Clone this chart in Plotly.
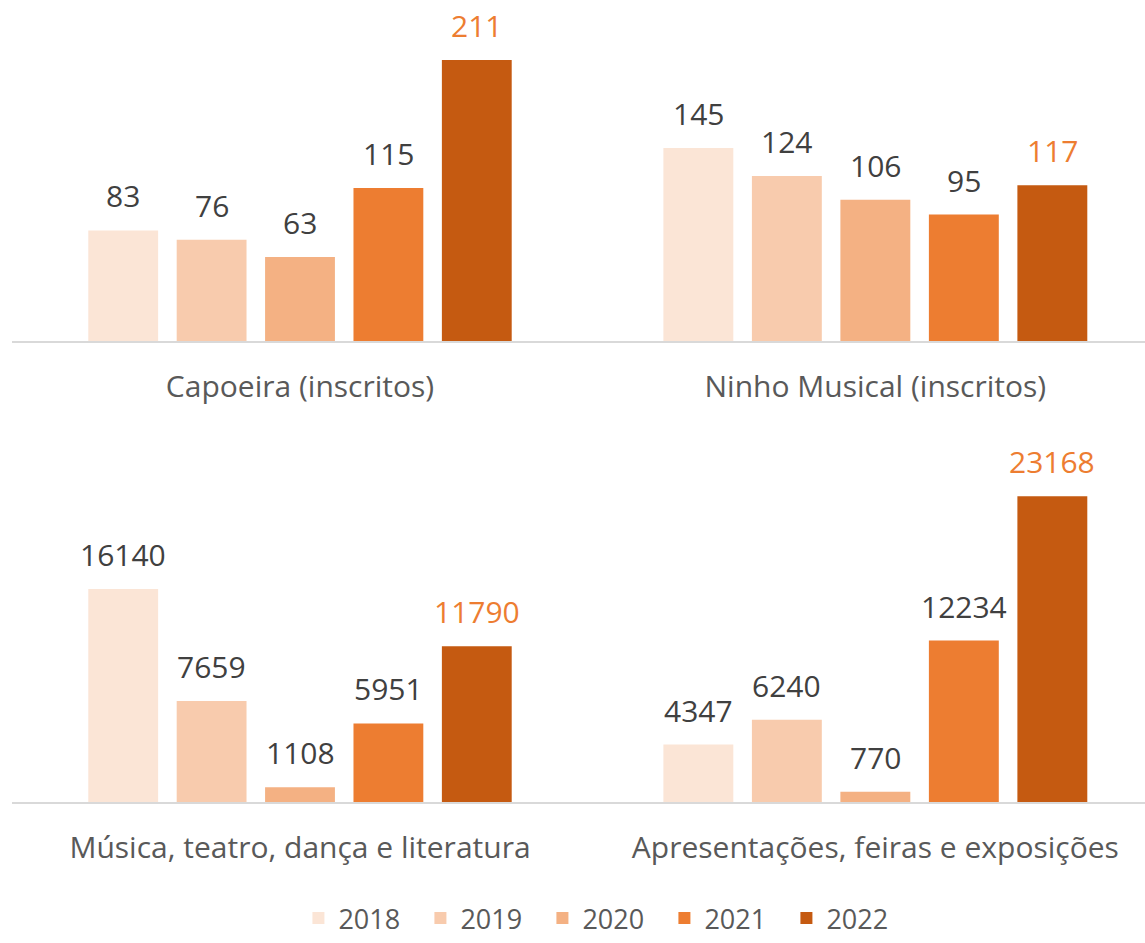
import plotly.graph_objects as go

years = ["2018", "2019", "2020", "2021", "2022"]
colors = ["#FBE5D6", "#F8CBAD", "#F4B183", "#ED7D31", "#C55A11"]
categories = [
    "Capoeira (inscritos)",
    "Ninho Musical (inscritos)",
    "Música, teatro, dança e literatura",
    "Apresentações, feiras e exposições",
]
capoeira = [83, 76, 63, 115, 211]
ninho = [145, 124, 106, 95, 117]
musica = [16140, 7659, 1108, 5951, 11790]
apresentacoes = [4347, 6240, 770, 12234, 23168]
series = [capoeira, ninho, musica, apresentacoes]

W, H = 1145, 943
FONT = "Open Sans"
VAL_SIZE = 30
CAT_SIZE = 30

fig = go.Figure()

# panel layout (pixels)
x_split = 588
left_dom = [12 / W, x_split / W]
right_dom = [x_split / W, 1.0]
top_dom = [(H - 341) / H, 1.0]
bot_dom = [(H - 802) / H, (H - 440) / H]

panels = [
    dict(xa="x", ya="y", xd=left_dom, yd=top_dom, xr=[-1.258, 5.258], yr=[0, 256.1]),
    dict(xa="x2", ya="y2", xd=right_dom, yd=top_dom, xr=[-1.247, 5.047], yr=[0, 256.1]),
    dict(xa="x3", ya="y3", xd=left_dom, yd=bot_dom, xr=[-1.258, 5.258], yr=[0, 27424]),
    dict(xa="x4", ya="y4", xd=right_dom, yd=bot_dom, xr=[-1.247, 5.047], yr=[0, 27424]),
]

annotations = []
for p, (panel, vals, cat) in enumerate(zip(panels, series, categories)):
    for i, (yr, v, c) in enumerate(zip(years, vals, colors)):
        fig.add_trace(go.Bar(
            x=[i], y=[v], width=0.79, name=yr, marker=dict(color=c, line=dict(width=0)),
            xaxis=panel["xa"], yaxis=panel["ya"], legendgroup=yr, showlegend=(p == 0),
            hoverinfo="skip",
        ))
        annotations.append(dict(
            x=i, y=v, xref=panel["xa"], yref=panel["ya"], text=str(v), showarrow=False,
            yanchor="bottom", yshift=12,
            font=dict(family=FONT, size=VAL_SIZE, color="#ED7D31" if i == 4 else "#404040"),
        ))
    suffix = "" if p == 0 else str(p + 1)
    fig.layout["xaxis" + suffix] = dict(
        domain=panel["xd"], range=panel["xr"], anchor=panel["ya"],
        showline=True, linecolor="#D9D9D9", linewidth=2, showgrid=False, zeroline=False,
        tickvals=[2], ticktext=[cat], ticks="", ticklabelstandoff=18,
        tickfont=dict(family=FONT, size=CAT_SIZE, color="#595959"), fixedrange=True,
    )
    fig.layout["yaxis" + suffix] = dict(
        domain=panel["yd"], range=panel["yr"], anchor=panel["xa"], visible=False,
        showgrid=False, zeroline=False, fixedrange=True,
    )

fig.update_layout(
    width=W, height=H, margin=dict(l=0, r=0, t=0, b=0, autoexpand=False),
    paper_bgcolor="white", plot_bgcolor="white", barmode="overlay",
    annotations=annotations,
    legend=dict(orientation="h", x=0.527, xanchor="center", y=0.0, yanchor="bottom",
                font=dict(family=FONT, size=27, color="#595959"),
                entrywidth=77, entrywidthmode="pixels", itemclick=False, itemdoubleclick=False),
    showlegend=True,
)

fig.write_html("out.html")
